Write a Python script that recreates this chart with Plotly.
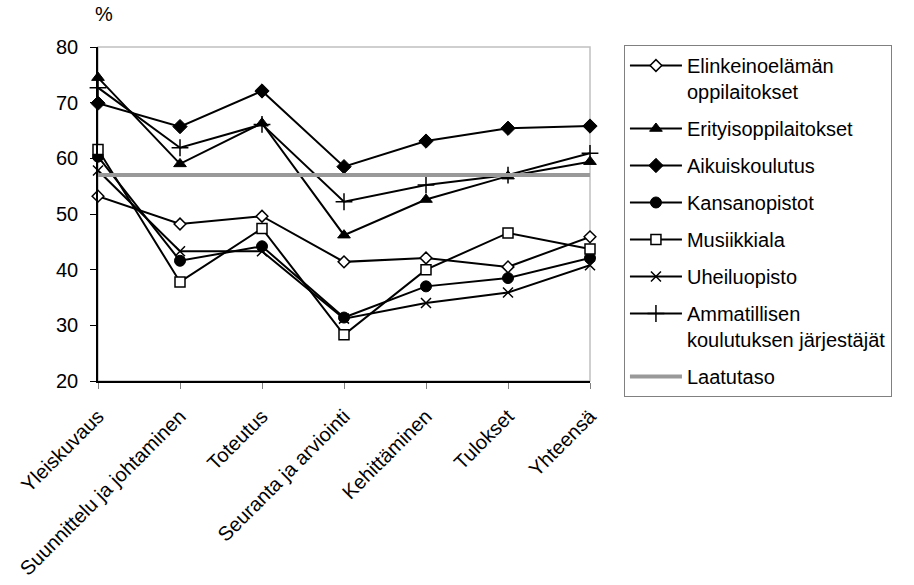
import plotly.graph_objects as go

# Evaluation areas (x axis) and scores in percent per school type
categories = ["Yleiskuvaus", "Suunnittelu ja johtaminen", "Toteutus",
              "Seuranta ja arviointi", "Kehittäminen", "Tulokset", "Yhteensä"]

elinkeinoelaman = [53.2, 48.2, 49.6, 41.4, 42.1, 40.5, 45.9]
erityisoppilaitokset = [74.5, 59.0, 66.3, 46.2, 52.6, 56.8, 59.4]
aikuiskoulutus = [69.9, 65.7, 72.1, 58.5, 63.1, 65.4, 65.8]
kansanopistot = [60.3, 41.6, 44.2, 31.4, 37.0, 38.5, 42.1]
musiikkiala = [61.6, 37.8, 47.4, 28.3, 40.0, 46.6, 43.7]
uheiluopisto = [57.8, 43.3, 43.3, 31.2, 34.0, 35.9, 40.8]
ammatillisen = [72.7, 61.9, 66.1, 52.2, 55.2, 57.0, 60.9]
laatutaso = [57.0] * len(categories)

FONT = "Liberation Sans, Arial, sans-serif"

series = [
    ("Elinkeinoelämän<br>oppilaitokset", elinkeinoelaman,
     dict(symbol="diamond", size=9, color="white", line=dict(color="black", width=1.5))),
    ("Erityisoppilaitokset", erityisoppilaitokset,
     dict(symbol="triangle-up", size=11, color="black", line=dict(color="black", width=1))),
    ("Aikuiskoulutus", aikuiskoulutus,
     dict(symbol="diamond", size=11, color="black", line=dict(color="black", width=1))),
    ("Kansanopistot", kansanopistot,
     dict(symbol="circle", size=11, color="black", line=dict(color="black", width=1))),
    ("Musiikkiala", musiikkiala,
     dict(symbol="square", size=10, color="white", line=dict(color="black", width=1.5))),
    ("Uheiluopisto", uheiluopisto,
     dict(symbol="x-thin", size=10, color="black", line=dict(color="black", width=1.5))),
    ("Ammatillisen<br>koulutuksen järjestäjät", ammatillisen,
     dict(symbol="cross-thin", size=12, color="black", line=dict(color="black", width=1.5))),
]

fig = go.Figure()

for i, (name, values, marker) in enumerate(series):
    fig.add_trace(go.Scatter(
        x=categories, y=values, name=name, mode="lines+markers",
        line=dict(color="black", width=2), marker=marker,
        cliponaxis=False, legendgroup=f"g{i}",
    ))

fig.add_trace(go.Scatter(
    x=categories, y=laatutaso, name="Laatutaso", mode="lines",
    line=dict(color="#999999", width=4), cliponaxis=False, legendgroup="g_laatu",
))

fig.update_layout(
    width=914, height=585,
    margin=dict(l=98, r=324, t=47, b=204),
    paper_bgcolor="white", plot_bgcolor="white",
    font=dict(family=FONT, size=20, color="black"),
    showlegend=True,
    legend=dict(
        x=1.069, y=1.006, xanchor="left", yanchor="top",
        bordercolor="#808080", borderwidth=1, bgcolor="white",
        font=dict(family=FONT, size=20, color="black"),
        tracegroupgap=8, valign="top", itemwidth=52,
        entrywidth=330, maxheight=520,
    ),
    xaxis=dict(
        type="category", range=[0, 6], showgrid=False, zeroline=False,
        showline=True, linecolor="black", linewidth=1.5,
        ticks="outside", ticklen=6, tickcolor="#808080", tickangle=-45,
        ticklabelstandoff=8, automargin=False,
        tickfont=dict(family=FONT, size=20, color="black"),
    ),
    yaxis=dict(
        range=[20, 80], dtick=10, showgrid=False, zeroline=False,
        showline=True, linecolor="black", linewidth=1.5,
        ticks="outside", ticklen=6, tickcolor="black", ticklabelstandoff=8,
        automargin=False,
        tickfont=dict(family=FONT, size=20, color="black"),
    ),
    shapes=[dict(type="rect", xref="paper", yref="paper", x0=0, x1=1, y0=0, y1=1,
                 line=dict(color="#c0c0c0", width=1.5), layer="below")],
    annotations=[dict(text="%", xref="paper", yref="paper", x=-0.01, y=1.06,
                      xanchor="left", yanchor="bottom", showarrow=False,
                      font=dict(family=FONT, size=20, color="black"))],
)

fig.write_html("out.html")
